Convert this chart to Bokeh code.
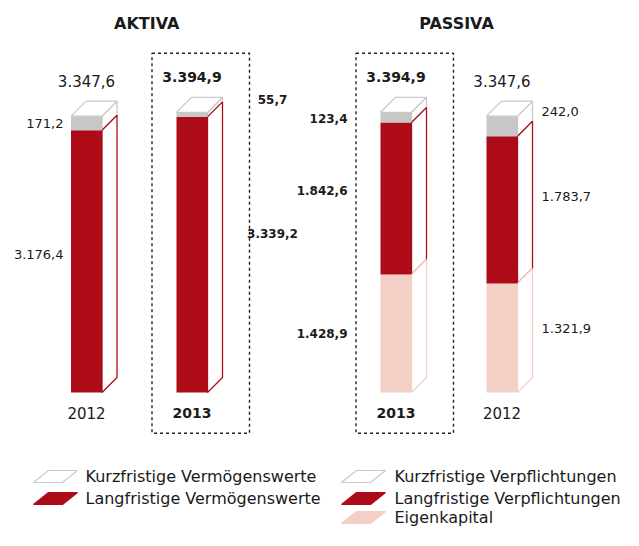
from bokeh.plotting import figure
from bokeh.models import Range1d
from bokeh.core.properties import value
from bokeh.embed import file_html
from bokeh.resources import INLINE

# ---------------- data ----------------
titles = ["AKTIVA", "PASSIVA"]
aktiva_years = ["2012", "2013"]
aktiva_lang = [3176.4, 3339.2]
aktiva_kurz = [171.2, 55.7]
passiva_years = ["2013", "2012"]
passiva_eigen = [1428.9, 1321.9]
passiva_lang = [1842.6, 1783.7]
passiva_kurz = [123.4, 242.0]
highlight_year = "2013"
legend_left = ["Kurzfristige Vermögenswerte", "Langfristige Vermögenswerte"]
legend_right = ["Kurzfristige Verpflichtungen", "Langfristige Verpflichtungen", "Eigenkapital"]

# ---------------- style / layout ----------------
RED = "#ad0b18"
GREY = "#c6c7c6"
PINK = "#f2d0c5"
INK = "#1a1a1a"
EDGE = "#c9c9c9"
FONT = "DejaVu Sans"

W, H = 623, 530
BASE = 392.0                 # screen y of the zero line
U = 3347.6 / 276.3           # value units per pixel


def Y(sy):
    return (BASE - sy) * U


def de(v):
    s = f"{v:,.1f}"
    return s.replace(",", "X").replace(".", ",").replace("X", ".")


p = figure(width=W, height=H, x_range=Range1d(0, W), y_range=Range1d(Y(H), Y(0)),
           output_backend="svg", toolbar_location=None, min_border=0)
p.axis.visible = False
p.grid.visible = False
p.outline_line_color = None
p.background_fill_color = "white"
p.border_fill_color = "white"

BW = 31.0      # front width px
D = 15.0       # depth px
DV = D * U

groups = [
    dict(title=titles[0], years=aktiva_years, series=[aktiva_lang, aktiva_kurz], colors=[RED, GREY],
         centers=[86.0, 191.5]),
    dict(title=titles[1], years=passiva_years, series=[passiva_eigen, passiva_lang, passiva_kurz],
         colors=[PINK, RED, GREY], centers=[395.5, 501.5]),
]

# label placement per bar: (anchor x px, align, offsets in px from segment middle)
label_cfg = [
    (63.0, "right", [-7, 0]),
    (272.0, "center", [-21, -15]),
    (347.0, "right", [0, -8, 1]),
    (541.0, "left", [-9.5, -13, -15]),
]

side_x, side_y, side_c = [], [], []
front = dict(l=[], r=[], b=[], t=[], c=[])
top_x, top_y = [], []
texts = []   # (x, y, text, size, bold, align)
boxes = []

bi = 0
for g in groups:
    for j, year in enumerate(g["years"]):
        cx = g["centers"][j]
        xl, xr = cx - BW / 2, cx + BW / 2
        bold = year == highlight_year
        ax, align, offs = label_cfg[bi]
        b = 0.0
        for s, col, off in zip(g["series"], g["colors"], offs):
            v = s[j]
            t = b + v
            side_x.append([xr, xr + D, xr + D, xr])
            side_y.append([b, b + DV, t + DV, t])
            side_c.append(col)
            front["l"].append(xl); front["r"].append(xr)
            front["b"].append(b); front["t"].append(t); front["c"].append(col)
            texts.append((ax, (b + t) / 2 - off * U, de(v), "12px" if bold else "13px", bold, align))
            b = t
        total = b
        top_x.append([xl, xr, xr + D, xl + D])
        top_y.append([total, total, total + DV, total + DV])
        texts.append((cx, total + DV + 20 * U, de(total), "14px" if bold else "15px", bold, "center"))
        texts.append((cx, Y(BASE + 20), year, "14px" if bold else "15px", bold, "center"))
        if bold:
            boxes.append((cx - 40, cx + 57.5))
        bi += 1
    texts.append(((g["centers"][0] + g["centers"][1]) / 2 + D / 2, Y(23), g["title"], "16px", True, "center"))

# draw order: grey, red, pink side faces
order = sorted(range(len(side_c)), key=lambda i: {GREY: 0, RED: 1, PINK: 2}[side_c[i]])
p.patches([side_x[i] for i in order], [side_y[i] for i in order], fill_color="white",
          line_color=[side_c[i] for i in order], line_width=1.3)
p.quad(left=front["l"], right=front["r"], bottom=front["b"], top=front["t"],
       fill_color=front["c"], line_color=None)
p.patches(top_x, top_y, fill_color="white", line_color=EDGE, line_width=1.2)

for (l, r) in boxes:
    p.quad(left=[l], right=[r], top=[Y(52.7)], bottom=[Y(432.7)], fill_alpha=0,
           line_color="#222222", line_width=1.4, line_dash="3 3")

# legend (compressed slightly so that it fits inside the canvas)
leg_rows = [476, 498, 517]
leg_items = [(33.0, 85.0, legend_left[0], "white", EDGE, leg_rows[0]),
             (33.0, 85.0, legend_left[1], RED, RED, leg_rows[1]),
             (341.0, 394.0, legend_right[0], "white", EDGE, leg_rows[0]),
             (341.0, 394.0, legend_right[1], RED, RED, leg_rows[1]),
             (341.0, 394.0, legend_right[2], PINK, PINK, leg_rows[2])]
for x0, tx, lab, fc, lc, ry in leg_items:
    yb, yt = Y(ry + 6), Y(ry - 6)
    p.patch([x0, x0 + 29, x0 + 44, x0 + 15], [yb, yb, yt, yt], fill_color=fc, line_color=lc, line_width=1.2)
    texts.append((tx, Y(ry), lab, "16px", False, "left"))

for x, y, t, size, bold, align in texts:
    p.text(x=[x], y=[y], text=[t], text_font=value(FONT), text_font_size=value(size),
           text_font_style="bold" if bold else "normal", text_align=align,
           text_baseline="middle", text_color=INK)

open("out.html", "w").write(file_html(p, INLINE))
